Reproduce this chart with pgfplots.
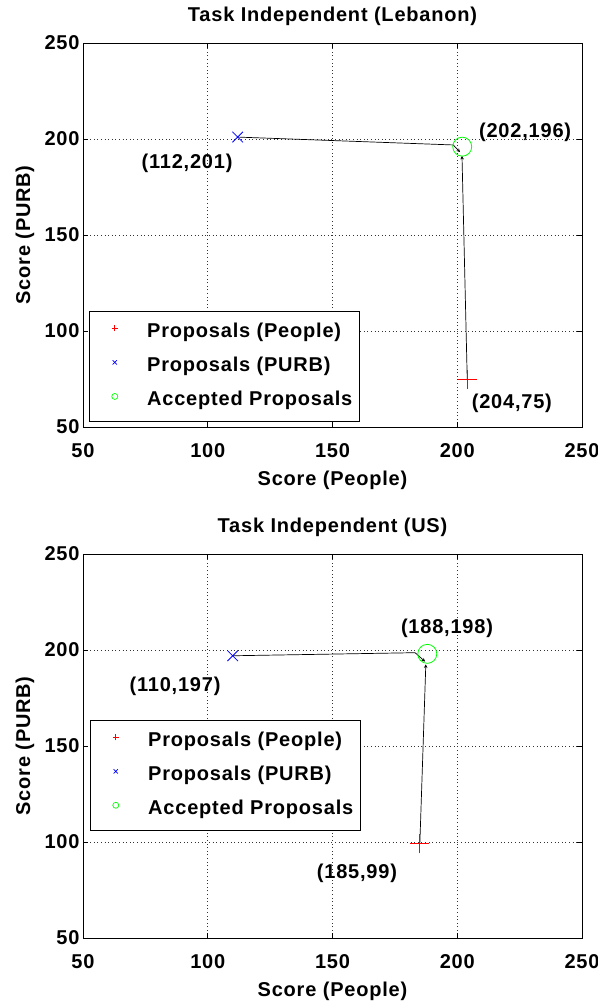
\documentclass[border=0pt]{standalone}
\usepackage{fontspec}
\setmainfont{Liberation Sans}[LetterSpace=4]
\usepackage{pgfplots}
\pgfplotsset{compat=1.18}
\usetikzlibrary{arrows.meta}
\newcommand{\ff}{\fontsize{20bp}{24bp}\selectfont\bfseries}
\pgfplotsset{
  matlab/.style={
    scale only axis, width=499bp, height=384bp,
    xmin=50, xmax=250, ymin=50, ymax=250,
    xtick={50,100,150,200,250}, ytick={50,100,150,200,250},
    grid=major,
    major grid style={black!80, line width=0.6bp, dash pattern=on 0.8bp off 2.8bp},
    tick align=inside, major tick length=5bp,
    axis line style={black, line width=0.8bp},
    every tick/.style={black, line width=0.6bp},
    /pgf/number format/assume math mode=true,
    ticklabel style={font=\ff},
    xticklabel style={anchor=base, yshift=-30bp},
    xlabel={Score (People)}, ylabel={Score (PURB)},
    xlabel style={font=\ff, at={(axis description cs:0.5,0)}, anchor=base, yshift=-58bp},
    ylabel style={font=\ff, at={(axis description cs:-0.106,0.5)}, anchor=base, rotate=0},
    title style={font=\ff, at={(axis description cs:0.5,1)}, anchor=base, yshift=16bp},
    legend cell align=left,
    legend style={font=\ff, draw=black, line width=0.8bp, fill=white,
      inner xsep=7bp, inner ysep=4bp, row sep=0bp, column sep=14bp,
      nodes={inner xsep=0bp, inner ysep=7bp, text height=15bp, text depth=5bp}},
  },
  legimg/.style={legend image code/.code={
      \draw[##1, mark size=3bp, line width=0.7bp] plot coordinates {(18bp,4bp)};
      \path (0bp,0bp) (36bp,0bp);}},
  pplusleg/.style={legend image code/.code={
      \draw[red, line width=0.7bp] (15bp,4bp) -- (21bp,4bp) (18bp,1bp) -- (18bp,7bp);
      \path (0bp,0bp) (36bp,0bp);}},
  pplusbar/.style={draw=red, color=red, line width=1bp, no marks, forget plot},
  pcross/.style={only marks, mark=x, color=blue, mark size=7.5bp, line width=0.8bp, legimg},
  pcirc/.style={only marks, mark=o, color=green, mark size=9.5bp, line width=0.8bp, legimg},
  traj/.style={draw=black, color=black, line width=0.7bp, -{Stealth[length=3.5bp,width=3.5bp]}, forget plot, no marks},
}
\begin{document}
\begin{tikzpicture}
\fill[white] (0,0) rectangle (598bp,-1001bp);
\useasboundingbox (0,0) rectangle (598bp,-1001bp);
% ---------------- Top: Lebanon ----------------
\begin{axis}[matlab, at={(83bp,-43bp)}, anchor=north west,
  title={Task Independent (Lebanon)},
  legend style={at={(0.012,0.302)}, anchor=north west}]
\addlegendimage{pplusleg}
\addlegendentry{Proposals (People)}
\addplot[traj] coordinates {(112,201) (198.4,196.9) (201.1,193.2)};
\addplot[traj] coordinates {(204,75) (201.9,191.2)};
% red "+" at (204,75)
\addplot[pplusbar] coordinates {(200.2,75) (207.8,75)};
\addplot[pplusbar] coordinates {(204,70.05) (204,79.95)};
\addplot[pcross] coordinates {(112,201)};
\addlegendentry{Proposals (PURB)}
\addplot[pcirc] coordinates {(202,196)};
\addlegendentry{Accepted Proposals}
\node[font=\ff] at (axis cs:91.7,187.5) {(112,201)};
\node[font=\ff] at (axis cs:227.2,203.6) {(202,196)};
\node[font=\ff] at (axis cs:221.9,62.5) {(204,75)};
\end{axis}
% ---------------- Bottom: US ----------------
\begin{axis}[matlab, at={(83bp,-554bp)}, anchor=north west,
  title={Task Independent (US)},
  legend style={at={(0.014,0.568)}, anchor=north west}]
\addlegendimage{pplusleg}
\addlegendentry{Proposals (People)}
\addplot[traj] coordinates {(110,197) (183.1,198.6) (187.1,194.0)};
\addplot[traj] coordinates {(185,99) (187.4,192.5)};
% red "+" at (185,99)
\addplot[pplusbar] coordinates {(181.2,99) (188.8,99)};
\addplot[pplusbar] coordinates {(185,94.05) (185,103.95)};
\addplot[pcross] coordinates {(110,197)};
\addlegendentry{Proposals (PURB)}
\addplot[pcirc] coordinates {(188,198)};
\addlegendentry{Accepted Proposals}
\node[font=\ff] at (axis cs:86.9,181.25) {(110,197)};
\node[font=\ff] at (axis cs:195.9,211.5) {(188,198)};
\node[font=\ff] at (axis cs:159.8,83.9) {(185,99)};
\end{axis}
\end{tikzpicture}
\end{document}
